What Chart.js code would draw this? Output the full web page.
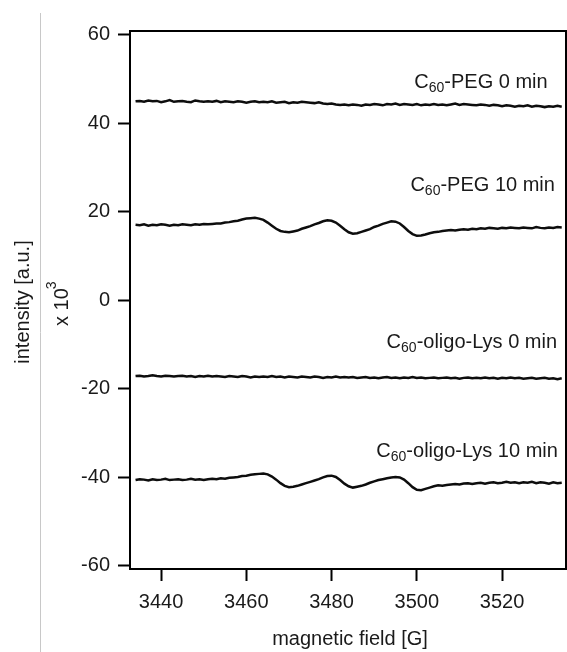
<!DOCTYPE html>
<html>
<head>
<meta charset="utf-8">
<script src="https://cdn.jsdelivr.net/npm/chart.js@4.4.1/dist/chart.umd.min.js"></script>
<style>
html, body { margin: 0; padding: 0; background: #fff; }
#wrap { width: 567px; height: 652px; }
</style>
</head>
<body>
<div id="wrap"><canvas id="epr" width="567" height="652"></canvas></div>
<script>
// magnetic field [G], one point per gauss
const FIELD = [
  3434, 3435, 3436, 3437, 3438, 3439, 3440, 3441, 3442, 3443,
  3444, 3445, 3446, 3447, 3448, 3449, 3450, 3451, 3452, 3453,
  3454, 3455, 3456, 3457, 3458, 3459, 3460, 3461, 3462, 3463,
  3464, 3465, 3466, 3467, 3468, 3469, 3470, 3471, 3472, 3473,
  3474, 3475, 3476, 3477, 3478, 3479, 3480, 3481, 3482, 3483,
  3484, 3485, 3486, 3487, 3488, 3489, 3490, 3491, 3492, 3493,
  3494, 3495, 3496, 3497, 3498, 3499, 3500, 3501, 3502, 3503,
  3504, 3505, 3506, 3507, 3508, 3509, 3510, 3511, 3512, 3513,
  3514, 3515, 3516, 3517, 3518, 3519, 3520, 3521, 3522, 3523,
  3524, 3525, 3526, 3527, 3528, 3529, 3530, 3531, 3532, 3533,
  3534
];

// intensity x 10^3
const PEG_0 = [
  45.0, 45.1, 44.9, 45.2, 45.0, 45.1, 44.8, 45.0, 45.3, 44.9,
  45.0, 45.1, 44.9, 44.8, 45.2, 45.0, 44.9, 45.0, 44.9, 45.1,
  44.8, 45.0, 44.9, 44.8, 45.0, 44.9, 44.7, 44.9, 45.0, 44.8,
  44.9, 44.8, 45.0, 44.7, 44.8, 44.9, 44.6, 44.8, 44.7, 44.9,
  44.8, 44.7, 44.6, 44.8, 44.5, 44.4, 44.5, 44.3, 44.2, 44.3,
  44.1, 44.3, 44.2, 44.0, 44.3, 44.2, 44.4, 44.3, 44.1, 44.4,
  44.3, 44.5, 44.2, 44.4, 44.3, 44.2, 44.4, 44.1, 44.3, 44.2,
  44.4, 44.2, 44.3, 44.1, 44.3, 44.5, 44.2, 44.4, 44.3, 44.2,
  44.1, 44.3, 44.2, 44.0, 44.2, 44.1, 43.9, 44.1, 44.0, 43.8,
  44.0, 43.9, 44.1, 43.8, 44.0, 43.9, 43.7, 43.9, 43.8, 44.0,
  43.8
];

const PEG_10 = [
  17.1, 17.0, 17.2, 16.9, 17.1, 17.0, 17.2, 17.1, 16.9, 17.1,
  17.0, 17.2, 17.1, 17.0, 17.2, 17.1, 17.3, 17.2, 17.3, 17.4,
  17.4, 17.6, 17.7, 17.9, 18.0, 18.3, 18.5, 18.6, 18.7, 18.5,
  18.2, 17.6, 16.9, 16.2, 15.7, 15.5, 15.4, 15.6, 15.8, 16.2,
  16.5, 16.8, 17.2, 17.5, 17.9, 18.1, 18.0, 17.6, 16.9, 16.1,
  15.4, 15.1, 15.2, 15.5, 15.8, 16.1, 16.6, 16.9, 17.3, 17.6,
  17.9, 17.8, 17.4, 16.6, 15.7, 15.0, 14.6, 14.7, 14.9, 15.2,
  15.4, 15.5, 15.7, 15.8, 15.9, 15.8, 16.0, 16.1, 16.0, 16.2,
  16.1, 16.3, 16.2, 16.4, 16.3, 16.2, 16.4, 16.3, 16.5, 16.4,
  16.3, 16.5, 16.4, 16.3, 16.6, 16.4, 16.3, 16.5, 16.4, 16.6,
  16.5
];

const LYS_0 = [
  -17.1, -17.0, -17.2, -17.1, -16.9, -17.1, -17.2, -17.0, -17.1, -17.2,
  -17.1, -17.0, -17.2, -17.1, -17.3, -17.1, -17.2, -17.0, -17.2, -17.1,
  -17.2, -17.3, -17.1, -17.2, -17.3, -17.1, -17.2, -17.4, -17.2, -17.3,
  -17.2, -17.3, -17.1, -17.3, -17.2, -17.4, -17.2, -17.3, -17.4, -17.2,
  -17.3, -17.4, -17.2, -17.3, -17.5, -17.3, -17.4, -17.2, -17.4, -17.3,
  -17.4, -17.3, -17.5, -17.4, -17.3, -17.5, -17.4, -17.6, -17.4, -17.3,
  -17.5, -17.4, -17.6, -17.4, -17.5, -17.3, -17.5, -17.4, -17.6, -17.5,
  -17.4, -17.6, -17.5, -17.4, -17.6, -17.5, -17.7, -17.5, -17.4, -17.6,
  -17.5, -17.6, -17.4, -17.6, -17.5, -17.7, -17.5, -17.6, -17.4, -17.6,
  -17.5, -17.7, -17.6, -17.5, -17.7, -17.6, -17.5, -17.7, -17.6, -17.8,
  -17.6
];

const LYS_10 = [
  -40.6, -40.4, -40.5, -40.7, -40.4, -40.6, -40.5, -40.3, -40.6, -40.5,
  -40.4, -40.6, -40.5, -40.3, -40.5, -40.4, -40.6, -40.4, -40.3, -40.4,
  -40.2, -40.3, -40.1, -40.0, -39.9, -39.7, -39.6, -39.4, -39.3, -39.2,
  -39.1, -39.3, -39.8, -40.5, -41.3, -41.9, -42.2, -42.1, -41.9, -41.6,
  -41.3, -41.0, -40.7, -40.4, -40.0, -39.7, -39.6, -39.9, -40.6, -41.4,
  -42.0, -42.3, -42.1, -41.9, -41.6, -41.2, -40.9, -40.6, -40.4, -40.2,
  -40.0, -39.9, -40.0, -40.5, -41.3, -42.2, -42.8, -42.9, -42.6, -42.3,
  -42.0, -41.8, -41.9, -41.7, -41.6, -41.5, -41.6, -41.4, -41.3, -41.5,
  -41.3, -41.2, -41.4, -41.2, -41.1, -41.3, -41.2, -41.0, -41.2, -41.1,
  -41.3, -41.1, -41.2, -41.0, -41.3, -41.1, -41.2, -41.4, -41.1, -41.3,
  -41.2
];

const SERIES = [PEG_0, PEG_10, LYS_0, LYS_10];
const LABEL_TAILS = ['-PEG 0 min', '-PEG 10 min', '-oligo-Lys 0 min', '-oligo-Lys 10 min'];
const X_TICKS = [3440, 3460, 3480, 3500, 3520];
const Y_TICKS = [-60, -40, -20, 0, 20, 40, 60];

const FONT = "'Liberation Sans', Arial, sans-serif";
const INK = '#1a1a1a';

// where each label's right end / baseline sits, in data units
const labelSpots = [[3530.7, 48.0], [3532.4, 24.7], [3532.9, -10.7], [3533.1, -35.4]];

function subLabel(ctx, tail, xRight, yBase) {
    ctx.font = '20px ' + FONT;
    const wC = ctx.measureText('C').width;
    const wT = ctx.measureText(tail).width;
    ctx.font = '14px ' + FONT;
    const wS = ctx.measureText('60').width;
    let x = xRight - (wC + wS + wT);
    ctx.font = '20px ' + FONT;
    ctx.fillText('C', x, yBase);
    x += wC;
    ctx.font = '14px ' + FONT;
    ctx.fillText('60', x, yBase + 4);
    x += wS;
    ctx.font = '20px ' + FONT;
    ctx.fillText(tail, x, yBase);
}

const decor = {
    id: 'decor',
    afterDraw(chart) {
        const ctx = chart.ctx;
        const a = chart.chartArea;
        const xs = chart.scales.x, ys = chart.scales.y;
        ctx.save();

        // grey separator on the far left
        ctx.strokeStyle = '#c8c8c8';
        ctx.lineWidth = 1;
        ctx.beginPath();
        ctx.moveTo(40.5, 13);
        ctx.lineTo(40.5, 652);
        ctx.stroke();

        // box: top + right
        ctx.strokeStyle = '#000';
        ctx.lineWidth = 2;
        ctx.beginPath();
        ctx.moveTo(a.left, a.top);
        ctx.lineTo(a.right, a.top);
        ctx.lineTo(a.right, a.bottom);
        ctx.stroke();

        ctx.fillStyle = INK;
        ctx.textAlign = 'left';
        ctx.textBaseline = 'alphabetic';
        LABEL_TAILS.forEach((t, i) => {
            subLabel(ctx, t, xs.getPixelForValue(labelSpots[i][0]), ys.getPixelForValue(labelSpots[i][1]));
        });

        // x title
        ctx.font = '20px ' + FONT;
        ctx.textAlign = 'center';
        ctx.fillText('magnetic field [G]', 350, 645);

        // y titles, rotated
        ctx.save();
        ctx.translate(29, 302);
        ctx.rotate(-Math.PI / 2);
        ctx.textAlign = 'center';
        ctx.fillText('intensity [a.u.]', 0, 0);
        ctx.restore();

        ctx.save();
        ctx.translate(68, 326);
        ctx.rotate(-Math.PI / 2);
        ctx.textAlign = 'left';
        ctx.font = '20px ' + FONT;
        const w = ctx.measureText('x 10').width;
        ctx.fillText('x 10', 0, 0);
        ctx.font = '14px ' + FONT;
        ctx.fillText('3', w - 1, -12);
        ctx.restore();

        ctx.restore();
    }
};

new Chart(document.getElementById('epr'), {
    type: 'line',
    data: {
        datasets: SERIES.map(s => ({
            data: FIELD.map((f, i) => ({x: f, y: s[i]})),
            borderColor: '#0d0d0d',
            borderWidth: 2.5,
            pointRadius: 0,
            tension: 0,
            fill: false
        }))
    },
    options: {
        responsive: false,
        animation: false,
        devicePixelRatio: 1,
        layout: {padding: {top: 31, right: 1, left: 0, bottom: 0}},
        plugins: {legend: {display: false}, tooltip: {enabled: false}},
        scales: {
            x: {
                type: 'linear',
                min: 3432.7,
                max: 3535,
                afterBuildTicks: s => { s.ticks = X_TICKS.map(v => ({value: v})); },
                afterFit: s => { s.height = 83; },
                border: {color: '#000', width: 2},
                grid: {drawOnChartArea: false, tickLength: 12, tickWidth: 2, tickColor: '#000'},
                ticks: {padding: 9, color: INK, font: {size: 20, family: FONT}, maxRotation: 0, autoSkip: false, callback: v => String(v)}
            },
            y: {
                type: 'linear',
                min: -60.7,
                max: 60.9,
                afterBuildTicks: s => { s.ticks = Y_TICKS.map(v => ({value: v})); },
                afterFit: s => { s.width = 130; },
                border: {color: '#000', width: 2},
                grid: {drawOnChartArea: false, tickLength: 12, tickWidth: 2, tickColor: '#000'},
                ticks: {padding: 8, color: INK, font: {size: 20, family: FONT}, autoSkip: false, callback: v => String(v)}
            }
        }
    },
    plugins: [decor]
});
</script>
</body>
</html>
